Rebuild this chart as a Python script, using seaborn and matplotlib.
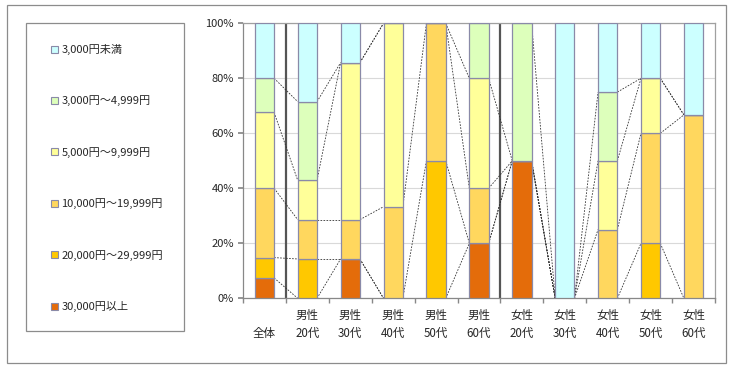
import matplotlib
matplotlib.use("Agg")
import matplotlib.pyplot as plt
import matplotlib.patches as mpatches
from matplotlib.ticker import FixedLocator
import numpy as np
import seaborn as sns

# ---------------- data ----------------
categories = ["\n全体", "男性\n20代", "男性\n30代", "男性\n40代", "男性\n50代", "男性\n60代",
              "女性\n20代", "女性\n30代", "女性\n40代", "女性\n50代", "女性\n60代"]

# series, bottom to top (percent)
s_30000_plus = [7.4, 0.0, 14.3, 0.0, 0.0, 20.0, 50.0, 0.0, 0.0, 0.0, 0.0]
s_20000_29999 = [7.4, 14.3, 0.0, 0.0, 50.0, 0.0, 0.0, 0.0, 0.0, 20.0, 0.0]
s_10000_19999 = [25.2, 14.3, 14.3, 33.3, 50.0, 20.0, 0.0, 0.0, 25.0, 40.0, 66.7]
s_5000_9999 = [27.6, 14.3, 57.1, 66.7, 0.0, 40.0, 0.0, 0.0, 25.0, 20.0, 0.0]
s_3000_4999 = [12.4, 28.6, 0.0, 0.0, 0.0, 20.0, 50.0, 0.0, 25.0, 0.0, 0.0]
s_under_3000 = [20.0, 28.5, 14.3, 0.0, 0.0, 0.0, 0.0, 100.0, 25.0, 20.0, 33.3]

series_names = ["30,000円以上", "20,000円～29,999円", "10,000円～19,999円",
                "5,000円～9,999円", "3,000円～4,999円", "3,000円未満"]
series_values = [s_30000_plus, s_20000_29999, s_10000_19999,
                 s_5000_9999, s_3000_4999, s_under_3000]
series_colors = ["#E46C0A", "#FFC800", "#FFD75E", "#FFFF99", "#DDFFBB", "#CCFFFF"]

ytick_values = [0, 20, 40, 60, 80, 100]
ytick_labels = ["0%", "20%", "40%", "60%", "80%", "100%"]

# ---------------- style ----------------
sns.set_theme(style="white")
plt.rcParams["font.family"] = ["Noto Sans CJK JP", "DejaVu Sans"]

fig = plt.figure(figsize=(7.3, 3.65), dpi=100)
W, H = 730, 365
ax = fig.add_axes([243 / W, 1 - 298.3 / H, (715 - 243) / W, (298.3 - 23.3) / H])

bar_w = 0.45
bottoms = np.zeros(len(categories))
for name, vals, col in zip(series_names, series_values, series_colors):
    sns.barplot(x=categories, y=vals, order=categories, bottom=bottoms.copy(),
                color=col, saturation=1, width=bar_w, edgecolor="#8A8AA8",
                linewidth=0.9, ax=ax, zorder=3)
    bottoms = bottoms + np.array(vals)

# series lines (connecting cumulative tops of each segment)
cum = np.cumsum(np.array(series_values), axis=0)
xs = np.arange(len(categories))
for k in range(cum.shape[0]):
    for i in range(len(categories) - 1):
        ax.plot([xs[i] + bar_w / 2, xs[i + 1] - bar_w / 2], [cum[k][i], cum[k][i + 1]],
                color="#333333", lw=0.6, ls=(0, (2.0, 1.6)), zorder=2)

# separators between groups
for xv in [0.5, 5.5]:
    ax.axvline(xv, color="#555555", lw=1.6, zorder=1)

ax.set_xlim(-0.5, len(categories) - 0.5)
ax.set_ylim(0, 100)
ax.set_yticks(ytick_values)
ax.set_yticklabels(ytick_labels, fontsize=8)
ax.yaxis.grid(True, color="#D9D9D9", lw=0.8, zorder=0)
ax.set_axisbelow(True)
ax.set_xlabel("")
ax.set_ylabel("")
ax.set_xticks(xs)
ax.set_xticklabels(categories, fontsize=8.3, linespacing=1.52)
ax.tick_params(axis="x", which="major", length=0, pad=7.5)
ax.xaxis.set_minor_locator(FixedLocator(np.arange(-0.5, len(categories), 1.0)))
ax.tick_params(axis="x", which="minor", length=3.5, direction="out", color="#888888", bottom=True)
ax.tick_params(axis="y", length=3.5, direction="out", color="#888888", left=True, pad=3)
for side, sp in ax.spines.items():
    sp.set_color("#A0A0A0")
    sp.set_linewidth(0.9)
ax.spines["left"].set_color("#888888")
ax.spines["bottom"].set_color("#888888")

# legend box
fig.patches.append(mpatches.Rectangle((26 / W, 1 - 331 / H), (184 - 26) / W, (331 - 23) / H,
                                      transform=fig.transFigure, fill=False,
                                      edgecolor="#8C8C8C", lw=0.9))
# outer border
fig.patches.append(mpatches.Rectangle((7 / W, 1 - 363 / H), (726 - 7) / W, (363 - 5) / H,
                                      transform=fig.transFigure, fill=False,
                                      edgecolor="#8C8C8C", lw=0.9))

handles = [mpatches.Patch(facecolor=c, edgecolor="#8A8AA8", lw=0.8) for c in series_colors][::-1]
labels = series_names[::-1]
fig.legend(handles, labels, loc="upper left", bbox_to_anchor=(51 / W, 1 - 44 / H),
           frameon=False, fontsize=8, handlelength=0.6, handleheight=0.6,
           handletextpad=0.35, labelspacing=3.65, borderpad=0, borderaxespad=0)

fig.savefig("out.png", dpi=100)
